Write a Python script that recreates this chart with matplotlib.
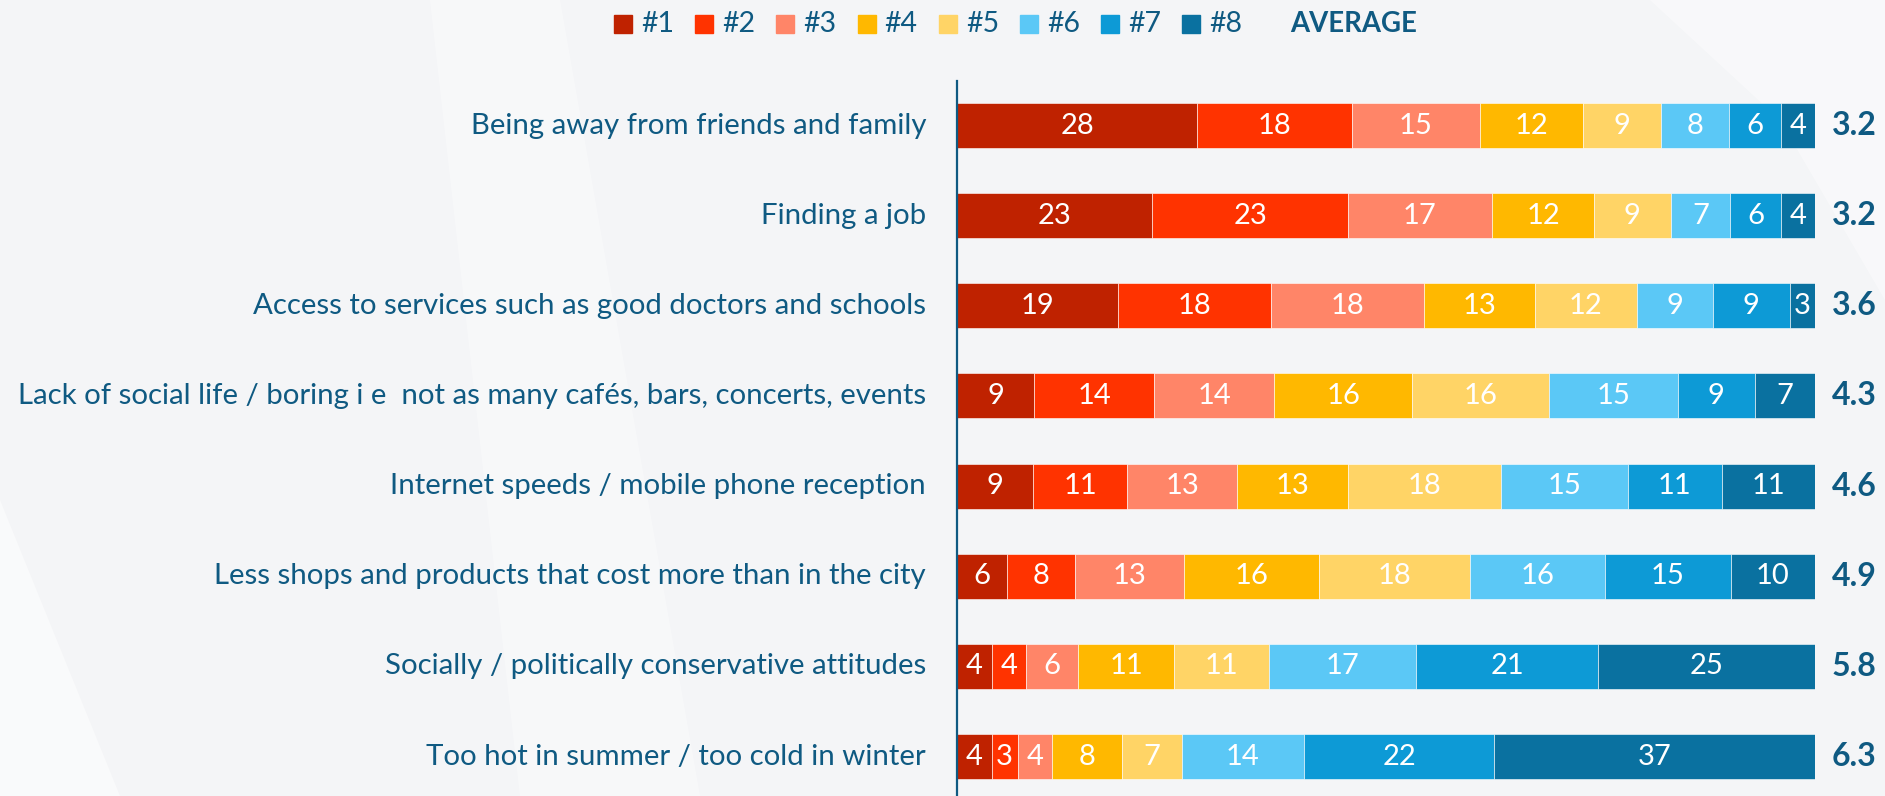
import numpy as np
import matplotlib
matplotlib.use("Agg")
import matplotlib.pyplot as plt
from matplotlib.patches import Rectangle

plt.rcParams['font.family'] = ['Lato', 'DejaVu Sans']

categories = [
	"Being away from friends and family",
	"Finding a job",
	"Access to services such as good doctors and schools",
	"Lack of social life / boring i e  not as many cafés, bars, concerts, events",
	"Internet speeds / mobile phone reception",
	"Less shops and products that cost more than in the city",
	"Socially / politically conservative attitudes",
	"Too hot in summer / too cold in winter",
]
ranks = ["#1", "#2", "#3", "#4", "#5", "#6", "#7", "#8"]
values = [
	[28, 18, 15, 12, 9, 8, 6, 4],
	[23, 23, 17, 12, 9, 7, 6, 4],
	[19, 18, 18, 13, 12, 9, 9, 3],
	[9, 14, 14, 16, 16, 15, 9, 7],
	[9, 11, 13, 13, 18, 15, 11, 11],
	[6, 8, 13, 16, 18, 16, 15, 10],
	[4, 4, 6, 11, 11, 17, 21, 25],
	[4, 3, 4, 8, 7, 14, 22, 37],
]
averages = [3.2, 3.2, 3.6, 4.3, 4.6, 4.9, 5.8, 6.3]

colors = ["#BF2200", "#FF3300", "#FF8568", "#FFB800", "#FFD466", "#5BC8F6", "#0D9AD6", "#0A71A0"]
text_col = "#0F5A82"
bg = "#F4F5F7"

W, H = 1885, 796
fig = plt.figure(figsize=(W / 100, H / 100), dpi=100, facecolor=bg)

# faint background shapes
bgax = fig.add_axes([0, 0, 1, 1], zorder=-5)
bgax.set_xlim(0, W)
bgax.set_ylim(H, 0)
bgax.axis("off")
bgax.fill([0, 0, 120, 0], [500, 796, 796, 500], color="white", alpha=0.5, lw=0)
bgax.fill([430, 560, 700, 520], [0, 0, 796, 796], color="white", alpha=0.35, lw=0)
bgax.fill([1650, 1885, 1885, 1780], [0, 0, 300, 120], color="white", alpha=0.4, lw=0)

x0, x1 = 957, 1815
top, bottom = 81, 796
ax = fig.add_axes([x0 / W, 0, (x1 - x0) / W, (bottom - top) / H])
ax.set_facecolor("none")
n = len(categories)
ax.set_xlim(0, 100)
ax.set_ylim(n - 1 + 0.438, -0.494)

for i, row in enumerate(values):
	row = np.array(row, dtype=float)
	widths = row / row.sum() * 100
	left = 0
	for j, w in enumerate(widths):
		ax.barh(i, w, left=left, height=0.5, color=colors[j], edgecolor="white", linewidth=0.4)
		ax.text(left + w / 2, i, str(values[i][j]), ha="center", va="center", color="white", fontsize=21)
		left += w
	ax.text(101.95, i, f"{averages[i]:.1f}", ha="left", va="center", color=text_col,
		fontsize=23, fontweight="bold", clip_on=False)
	ax.text(-3.6, i, categories[i], ha="right", va="center", color=text_col, fontsize=21.2, clip_on=False)

for s in ["top", "right", "bottom"]:
	ax.spines[s].set_visible(False)
ax.spines["left"].set_color(text_col)
ax.spines["left"].set_linewidth(1.6)
ax.set_xticks([])
ax.set_yticks([])

# legend
lx = 614
for j, r in enumerate(ranks):
	x = lx + j * 81.2
	fig.patches.append(Rectangle((x / W, 1 - 33 / H), 18 / W, 18 / H, transform=fig.transFigure,
		color=colors[j], figure=fig))
	fig.text((x + 27) / W, 1 - 24 / H, r, ha="left", va="center", color=text_col, fontsize=20.5)
fig.text(1290 / W, 1 - 24 / H, "AVERAGE", ha="left", va="center", color=text_col, fontsize=19.8, fontweight="bold")

fig.savefig("out.png", dpi=100, facecolor=bg)
